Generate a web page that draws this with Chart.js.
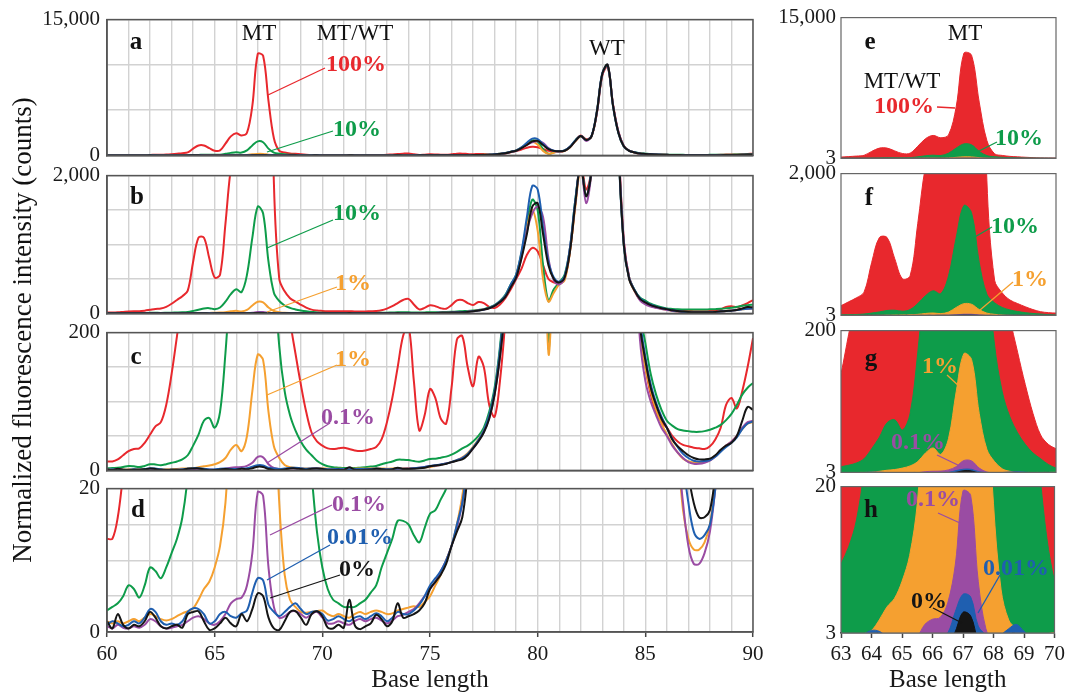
<!DOCTYPE html>
<html>
<head>
<meta charset="utf-8">
<script src="https://cdn.jsdelivr.net/npm/chart.js@4.4.1/dist/chart.umd.min.js"></script>
<style>
body { margin: 0; background: #fff; }
#wrap { position: relative; width: 1069px; height: 695px; overflow: hidden; font-family: "Liberation Serif", "Times New Roman", serif; }
#wrap canvas { position: absolute; }
#lead { position: absolute; left: 0; top: 0; }
.lbl { position: absolute; transform: translate(-50%, -50%); white-space: nowrap; line-height: 1; color: #111; }
.pc { font-weight: bold; font-size: 24px; }
.let { font-weight: bold; font-size: 25px; }
.nm { font-size: 23px; }
</style>
</head>
<body>
<div id="wrap">
  <svg id="lead" width="1069" height="695"></svg>
</div>
<script>
// x samples (base length), every quarter base
var baseLen = []
for (var i = 0; i <= 120; i++) baseLen.push(60 + i * 0.25)

// MT/WT 100% (red), 4 values per base, 60 -> 90
var mt100 = [
  13, 13, 16, 22,   28, 31, 32, 40,   52, 64, 70, 95,   140, 195, 250, 330,
  750, 1100, 1100, 800,   520, 560, 1300, 2100,   2450, 2200, 2500, 5500,   11200, 11000, 6000, 1900,
  500, 320, 220, 170,   125, 85, 55, 42,   36, 32, 31, 32,   33, 31, 29, 28,
  29, 31, 34, 45,   70, 105, 150, 195,   210, 130, 58, 80,   118, 105, 75, 68,
  120, 190, 195, 150,   122, 165, 150, 95,   78, 130, 220, 350,   500, 650, 850, 950,
  900, 700, 500, 450,   430, 500, 900, 1600,   2200, 1800, 2100, 4700,   8800, 9800, 5600, 2600,
  1050, 520, 330, 200,   150, 110, 85, 70,   62, 50, 42, 37,   35, 33, 32, 31,
  35, 45, 62, 95,   105, 90, 115, 150,
  192
]
// 10% (green)
var mt10 = [
  3, 3.5, 4, 5,   6.5, 6, 4.8, 6.5,   9, 8.5, 7.5, 9,   11, 13, 16, 22,
  36, 52, 72, 76,   62, 85, 170, 280,   350, 310, 560, 1100,   1550, 1450, 750, 300,
  180, 115, 80, 58,   42, 30, 22, 14,   9, 6, 4.5, 4,   3.5, 3.5, 3.5, 4,
  4.5, 5.5, 6.5, 9,   11, 13, 15.5, 15.5,   15, 13.5, 12.5, 14.5,   16.5, 17, 18.5, 20,
  23, 27, 32, 36,   42, 50, 62, 85,   120, 180, 270, 420,   560, 880, 1300, 1650,
  1500, 700, 180, 350,   450, 560, 950, 1650,   2150, 1700, 2100, 4800,   9000, 10000, 5500, 2500,
  1000, 520, 340, 230,   185, 140, 110, 88,   72, 65, 60, 58,   57, 56, 56, 57,
  59, 62, 66, 73,   82, 95, 110, 120,
  127
]
// 1% (orange)
var mt1 = [
  1.5, 1.2, 1.5, 1.2,   1.5, 1.8, 1.5, 2,   2.5, 2.2, 1.8, 1.6,   1.8, 2.2, 2.6, 2.9,
  3.3, 4.5, 6, 7,   9, 12, 18, 30,   37, 28, 50, 115,   168, 160, 85, 35,
  18, 8, 4.5, 3.5,   2.8, 2.7, 2.8, 2.9,   3, 2.5, 2.2, 2.5,   2.2, 2, 2.5, 2.8,
  2.5, 2.8, 3, 2.8,   2.5, 2.6, 3, 3.2,   3.4, 3.6, 3.5, 4.2,   5, 6.5, 8, 10,
  12, 15, 19, 25,   34, 45, 58, 78,   112, 170, 250, 400,   540, 850, 1250, 1500,
  1200, 500, 170, 300,   420, 480, 900, 1550,   2100, 1700, 2100, 4800,   9000, 9900, 5500, 2500,
  1000, 500, 320, 200,   150, 115, 88, 68,   52, 38, 26, 17,   13, 11.5, 11.5, 12.5,
  15, 21, 29, 36,   42, 50, 60, 68,
  70
]
// 0.1% (purple)
var mt01 = [
  0.8, 0.5, 1, 0.6,   0.5, 0.8, 0.6, 1,   1.8, 1.5, 0.8, 0.5,   0.6, 0.8, 1, 1.5,
  2, 2.2, 1.8, 1.2,   1, 1.5, 2.5, 4,   4.6, 4.8, 6.5, 11,   19.5, 19, 9, 3.5,
  2, 2.2, 2.8, 2.9,   2.5, 2, 2.5, 2.8,   2, 1.2, 1.2, 1.5,   1.2, 1, 1.5, 1.8,
  1.5, 1.8, 2, 1.6,   1.2, 1.6, 2.2, 2.4,   2.8, 3.2, 4, 5,   6, 7, 8.5, 10,
  12, 14.5, 18, 23,   32, 43, 56, 76,   110, 165, 245, 390,   520, 820, 1200, 1450,
  1550, 1400, 800, 480,   420, 520, 950, 1600,   2150, 1600, 2100, 4700,   8900, 10000, 5600, 2600,
  1050, 520, 330, 190,   130, 100, 80, 62,   50, 36, 26, 18,   12, 9.5, 9.5, 11,
  14, 20, 28, 36,   42, 50, 62, 70,
  72
]
// 0.01% (blue)
var mt001 = [
  1, 1.5, 1.2, 0.8,   1, 1.5, 1.2, 2,   3.2, 2.8, 1.5, 1,   1.2, 1, 1.5, 2.8,
  3.3, 3.2, 2.5, 1.2,   1.5, 2.5, 2.8, 2.2,   2, 2.6, 3, 5.5,   7.5, 7.2, 3.8, 2.8,
  2.2, 2.8, 3.5, 4,   3.2, 2.5, 2.8, 2.9,   2.5, 1.6, 1.8, 2.2,   1.8, 1.5, 2, 2.2,
  1.8, 2.2, 2.6, 2.2,   1.5, 2, 2.8, 2.5,   2.5, 3, 3.8, 5,   6.5, 7.5, 8.5, 10,
  12, 15, 18, 24,   33, 44, 58, 80,   115, 175, 260, 420,   560, 900, 1400, 1850,
  1800, 1250, 750, 520,   460, 540, 950, 1650,   2150, 1700, 2150, 4900,   9100, 9900, 5400, 2450,
  980, 500, 340, 220,   165, 125, 98, 78,   62, 46, 34, 24,   18, 14, 13, 13.5,
  15, 20, 27, 34,   40, 48, 60, 68,
  71
]
// 0% (black)
var mt0 = [
  1.5, 0.5, 2.5, 1,   0.5, 1, 0.8, 1.5,   2.8, 2, 0.8, 0.5,   0.8, 1, 0.6, 2.5,
  2.8, 2.9, 1.5, 0.3,   0.5, 1.2, 2, 1.2,   0.8, 2.5, 1.5, 3.2,   5.4, 5, 2, 0.5,
  0.3, 1.5, 2.8, 2.9,   2, 1, 2.5, 2.9,   2.2, 0.6, 0.5, 1,   0.6, 4.5, 1, 0.4,
  0.8, 1.2, 2.4, 1.8,   0.8, 1.5, 4, 2,   2.2, 2.5, 3, 4,   6, 7, 8, 9.5,
  12, 14, 16, 22,   32, 42, 55, 75,   110, 165, 240, 380,   520, 800, 1150, 1550,
  1600, 1150, 700, 500,   450, 520, 900, 1600,   2150, 1700, 2100, 4800,   9000, 10000, 5500, 2500,
  1000, 500, 330, 210,   160, 120, 95, 75,   62, 45, 35, 28,   22, 18, 16, 16,
  17, 22, 30, 36,   40, 50, 72, 92,
  88
]

var levels = ["0%", "0.01%", "0.1%", "1%", "10%", "100%"]
var colors = ["#151515", "#1f5fb0", "#9a4ca3", "#f5a030", "#0e9c4a", "#e8282d"]
var series = [mt0, mt001, mt01, mt1, mt10, mt100]

var leftMax = [15000, 2000, 200, 20]
var leftStep = [2500, 500, 50, 5]
var rightMax = [15000, 2000, 200, 20]

var serif = "'Liberation Serif', 'Times New Roman', serif"
var wrap = document.getElementById("wrap")

var framePlugin = {
  id: "frame",
  afterDraw: function (chart, args, opts) {
    var a = chart.chartArea, c = chart.ctx
    c.save()
    c.strokeStyle = opts.color
    c.lineWidth = opts.width
    c.strokeRect(a.left, a.top, a.right - a.left, a.bottom - a.top)
    c.restore()
  }
}

function addCanvas(left, top, w, h) {
  var cv = document.createElement("canvas")
  cv.width = w
  cv.height = h
  cv.style.left = left + "px"
  cv.style.top = top + "px"
  cv.style.width = w + "px"
  cv.style.height = h + "px"
  wrap.appendChild(cv)
  return cv
}

function datasets(area) {
  return series.map(function (vals, k) {
    return {
      label: levels[k],
      data: baseLen.map(function (x, i) { return { x: x, y: vals[i] } }),
      borderColor: colors[k],
      backgroundColor: colors[k],
      borderWidth: area ? 1 : 2,
      pointRadius: 0,
      tension: 0.35,
      fill: area ? "start" : false
    }
  })
}

function leftPanel(n, top, bottom) {
  var last = n === 3
  var ch = last ? 695 - (top - 14) : bottom - top + 28
  var cv = addCanvas(0, top - 14, 770, ch)
  var ymax = leftMax[n]
  new Chart(cv, {
    type: "line",
    data: { datasets: datasets(false) },
    plugins: [framePlugin],
    options: {
      responsive: false,
      animation: false,
      events: [],
      layout: { padding: { left: 0, right: 17, top: 14, bottom: last ? 0 : 14 } },
      plugins: { legend: { display: false }, tooltip: { enabled: false }, frame: { color: "#555", width: 1.5 } },
      scales: {
        x: {
          type: "linear", min: 60, max: 90,
          ticks: {
            display: last, stepSize: 1, autoSkip: false, maxRotation: 0, padding: 5,
            color: "#1a1a1a", font: { family: serif, size: 21 },
            callback: function (v) { return v % 5 === 0 ? String(v) : "" }
          },
          grid: {
            color: "#d2d2d2", lineWidth: 1.4, drawTicks: last, tickLength: 5, tickWidth: 1.5,
            tickColor: function (c) { return c.tick && c.tick.value % 5 === 0 ? "#444" : "rgba(0,0,0,0)" }
          },
          border: { display: true, color: "#555", width: 1.5 },
          title: { display: last, text: "Base length", color: "#1a1a1a", font: { family: serif, size: 25 }, padding: { top: 4, bottom: 0 } },
          afterFit: function (s) { s.height = last ? 63 : 0 }
        },
        y: {
          min: 0, max: ymax,
          ticks: {
            stepSize: leftStep[n], padding: 7, color: "#1a1a1a", font: { family: serif, size: 21 },
            callback: function (v) { return (v === 0 || v === ymax) ? v.toLocaleString("en-US") : "" }
          },
          grid: { color: "#d2d2d2", lineWidth: 1.4, drawTicks: false },
          border: { display: true, color: "#555", width: 1.5 },
          afterFit: function (s) { s.width = 107 }
        }
      }
    }
  })
}

function rightPanel(n, top, bottom) {
  var last = n === 3
  var ch = last ? 695 - (top - 14) : bottom - top + 28
  var cv = addCanvas(770, top - 14, 299, ch)
  var ymax = rightMax[n]
  new Chart(cv, {
    type: "line",
    data: { datasets: datasets(true) },
    plugins: [framePlugin],
    options: {
      responsive: false,
      animation: false,
      events: [],
      layout: { padding: { left: 0, right: 13, top: 14, bottom: last ? 0 : 14 } },
      plugins: { legend: { display: false }, tooltip: { enabled: false }, frame: { color: "#666", width: 1.2 } },
      scales: {
        x: {
          type: "linear", min: 63, max: 70, display: last,
          ticks: { stepSize: 1, autoSkip: false, maxRotation: 0, padding: 4, color: "#1a1a1a", font: { family: serif, size: 21 } },
          grid: { display: true, drawOnChartArea: false, drawTicks: true, tickLength: 5, color: "#444", tickWidth: 1.5 },
          border: { display: true, color: "#444", width: 1.5 },
          title: { display: true, text: "Base length", color: "#1a1a1a", font: { family: serif, size: 25 }, padding: { top: 4, bottom: 0 } },
          afterFit: function (s) { s.height = last ? 62 : 0 }
        },
        y: {
          min: 3, max: ymax,
          afterBuildTicks: function (s) { s.ticks = [{ value: 3 }, { value: ymax }] },
          ticks: { padding: 5, color: "#1a1a1a", font: { family: serif, size: 21 },
            callback: function (v) { return v.toLocaleString("en-US") } },
          grid: { display: false, drawTicks: false },
          border: { display: false },
          afterFit: function (s) { s.width = 71 }
        }
      }
    }
  })
}

var panelTops = [14, 170, 327, 483]
var panelBottoms = [161, 319, 476, 632]
for (var p = 0; p < 4; p++) {
  leftPanel(p, panelTops[p], panelBottoms[p])
  rightPanel(p, panelTops[p], p === 3 ? 633 : panelBottoms[p] + (p === 0 ? 1 : 0))
}

// leader lines, page pixels
var leaders = [
  [325, 68, 268, 95, colors[5]], [333, 131, 267, 152, colors[4]],
  [333, 220, 267, 248, colors[4]], [337, 287, 267, 312, colors[3]],
  [337, 365, 267, 395, colors[3]], [330, 423, 267, 463, colors[2]],
  [332, 505, 270, 535, colors[2]], [330, 545, 267, 580, colors[1]], [340, 575, 270, 598, colors[0]],
  [937, 107, 955, 108, colors[5]], [997, 142, 977, 152, colors[4]],
  [992, 227, 973, 238, colors[4]], [1013, 282, 980, 310, colors[3]],
  [947, 375, 960, 387, colors[3]], [937, 455, 962, 467, colors[2]],
  [938, 513, 960, 523, colors[2]], [1000, 575, 978, 613, colors[1]], [933, 608, 962, 623, colors[0]]
]
var svg = document.getElementById("lead")
wrap.appendChild(svg)
leaders.forEach(function (l) {
  var ln = document.createElementNS("http://www.w3.org/2000/svg", "line")
  ln.setAttribute("x1", l[0]); ln.setAttribute("y1", l[1])
  ln.setAttribute("x2", l[2]); ln.setAttribute("y2", l[3])
  ln.setAttribute("stroke", l[4]); ln.setAttribute("stroke-width", "1.3")
  svg.appendChild(ln)
})

// text labels: [text, x, y, class, color]
var labels = [
  ["a", 136, 40, "let", "#111"], ["b", 137, 195, "let", "#111"], ["c", 136, 355, "let", "#111"], ["d", 138, 508, "let", "#111"],
  ["e", 870, 40, "let", "#111"], ["f", 869, 196, "let", "#111"], ["g", 871, 357, "let", "#111"], ["h", 871, 508, "let", "#111"],
  ["MT", 259, 32, "nm", "#111"], ["MT/WT", 355, 32, "nm", "#111"], ["WT", 607, 47, "nm", "#111"],
  ["MT", 965, 32, "nm", "#111"], ["MT/WT", 902, 80, "nm", "#111"],
  ["100%", 356, 63, "pc", colors[5]], ["10%", 357, 128, "pc", colors[4]],
  ["10%", 357, 212, "pc", colors[4]], ["1%", 353, 282, "pc", colors[3]],
  ["1%", 353, 358, "pc", colors[3]], ["0.1%", 348, 416, "pc", colors[2]],
  ["0.1%", 359, 503, "pc", colors[2]], ["0.01%", 360, 536, "pc", colors[1]], ["0%", 357, 568, "pc", colors[0]],
  ["100%", 904, 105, "pc", colors[5]], ["10%", 1019, 137, "pc", colors[4]],
  ["10%", 1015, 225, "pc", colors[4]], ["1%", 1030, 278, "pc", colors[3]],
  ["1%", 940, 365, "pc", colors[3]], ["0.1%", 918, 441, "pc", colors[2]],
  ["0.1%", 933, 498, "pc", colors[2]], ["0.01%", 1016, 567, "pc", colors[1]], ["0%", 929, 600, "pc", colors[0]]
]
labels.forEach(function (t) {
  var el = document.createElement("div")
  el.className = "lbl " + t[3]
  el.textContent = t[0]
  el.style.left = t[1] + "px"
  el.style.top = t[2] + "px"
  el.style.color = t[4]
  wrap.appendChild(el)
})

var yt = document.createElement("div")
yt.className = "lbl"
yt.textContent = "Normalized fluorescence intensity (counts)"
yt.style.left = "22px"
yt.style.top = "330px"
yt.style.fontSize = "27px"
yt.style.transform = "translate(-50%, -50%) rotate(-90deg)"
wrap.appendChild(yt)
</script>
</body>
</html>
